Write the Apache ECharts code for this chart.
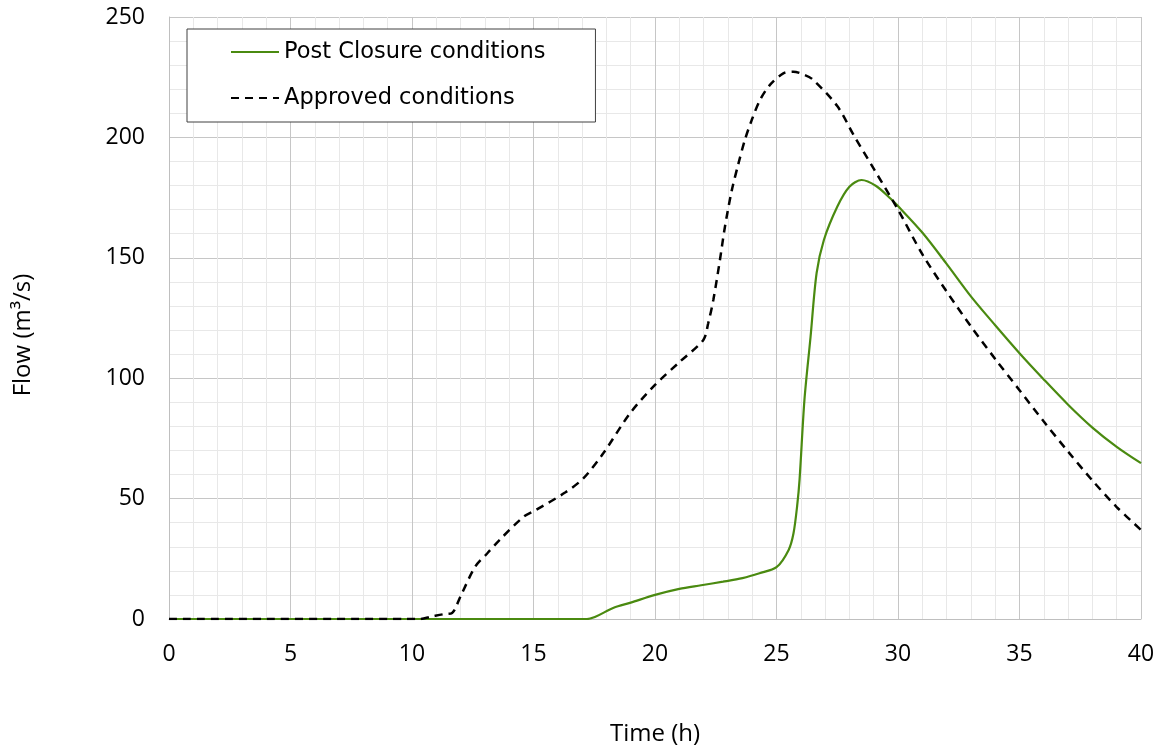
<!DOCTYPE html>
<html>
<head>
<meta charset="utf-8">
<script src="https://cdn.jsdelivr.net/npm/echarts@6/dist/echarts.min.js"></script>
<style>
html,body{margin:0;padding:0;background:#fff;}
#chart{width:1167px;height:751px;}
</style>
</head>
<body>
<div id="chart"></div>
<script>
// Data
const seriesNames = ['Post Closure conditions', 'Approved conditions'];

const timePost = [0, 16.6, 17.2, 18.3, 19.0, 20.0, 21.0, 21.9, 22.8, 23.6, 24.3, 25.0, 25.5, 25.7, 25.85, 25.95, 26.15, 26.4, 26.65, 26.95, 27.5, 28.0, 28.5, 29.1, 29.7, 30.0, 31.0, 32.0, 33.0, 34.0, 35.0, 36.0, 37.0, 38.0, 39.0, 40.0];
const flowPost = [0, 0, 0, 4.7, 6.8, 10, 12.5, 14, 15.5, 17, 19, 21.5, 28.7, 35.6, 47, 58, 91, 117, 143.6, 157.4, 171.2, 179.5, 182.3, 179.8, 174.5, 171.5, 160.5, 147.5, 134, 122, 110.4, 99.5, 89, 79.5, 71.5, 64.7];

const timeApproved = [0, 9.8, 10.3, 10.8, 11.3, 11.65, 12.0, 12.6, 13.1, 13.6, 14.6, 15.1, 16.3, 17.05, 17.87, 18.97, 20.0, 21.03, 21.99, 22.19, 22.4, 22.67, 22.88, 23.16, 23.43, 23.7, 23.98, 24.32, 24.73, 25.28, 25.69, 26.17, 26.5, 27.5, 28.2, 29.0, 30.0, 31.0, 32.0, 33.0, 34.0, 35.0, 36.0, 37.0, 38.0, 39.0, 40.0];
const flowApproved = [0, 0, 0, 1, 2, 2.5, 9.5, 21.7, 27.3, 32.8, 42.5, 45.3, 52.5, 58.4, 68.8, 85.4, 97.2, 106.9, 115.9, 122.8, 132.5, 149, 163, 178, 189, 199, 207.2, 215.5, 221.8, 226.6, 227.3, 225.9, 224, 213, 200.5, 187, 170, 151.5, 136, 121.5, 108, 95, 82, 69.5, 57.5, 46.5, 37];

const xAxisName = 'Time (h)';
const yAxisName = 'Flow (m³/s)';

const AXIS_FONT = 'Open Sans';
const LEGEND_FONT = 'DejaVu Sans';
const pairs = (xs, ys) => xs.map((x, i) => [x, ys[i]]);

const chart = echarts.init(document.getElementById('chart'), null, {renderer: 'canvas'});
chart.setOption({
  animation: false,
  backgroundColor: '#ffffff',
  textStyle: {fontFamily: AXIS_FONT},
  grid: {left: 169, right: 26, top: 17, bottom: 132, containLabel: false},
  legend: {
    orient: 'vertical',
    left: 187,
    top: 29,
    data: seriesNames,
    backgroundColor: '#ffffff',
    borderColor: '#404040',
    borderWidth: 1,
    borderRadius: 0,
    padding: [10, 50, 11, 43],
    itemGap: 20,
    itemWidth: 48,
    itemHeight: 26,
    itemStyle: {opacity: 0},
    textStyle: {fontFamily: LEGEND_FONT, fontSize: 22.5, lineHeight: 26, color: '#000'}
  },
  xAxis: {
    type: 'value',
    min: 0, max: 40, interval: 5,
    name: xAxisName,
    nameLocation: 'middle',
    nameGap: 103,
    nameTextStyle: {fontFamily: AXIS_FONT, fontSize: 24, color: '#000'},
    axisLine: {show: true, lineStyle: {color: '#bfbfbf', width: 1}},
    axisTick: {show: false},
    axisLabel: {fontFamily: AXIS_FONT, fontSize: 23, color: '#000', margin: 24},
    splitLine: {show: true, lineStyle: {color: '#c6c6c6', width: 1}},
    minorTick: {show: false, splitNumber: 5},
    minorSplitLine: {show: true, lineStyle: {color: '#e8e8e8', width: 1}}
  },
  yAxis: {
    type: 'value',
    min: 0, max: 250, interval: 50,
    name: yAxisName,
    nameLocation: 'middle',
    nameGap: 134,
    nameTextStyle: {fontFamily: AXIS_FONT, fontSize: 24, color: '#000', padding: [0, 34, 0, 0]},
    axisLine: {show: true, lineStyle: {color: '#bfbfbf', width: 1}},
    axisTick: {show: false},
    axisLabel: {fontFamily: AXIS_FONT, fontSize: 23, color: '#000', margin: 24},
    splitLine: {show: true, lineStyle: {color: '#c6c6c6', width: 1}},
    minorTick: {show: false, splitNumber: 5},
    minorSplitLine: {show: true, lineStyle: {color: '#e8e8e8', width: 1}}
  },
  series: [
    {
      name: seriesNames[0],
      type: 'line',
      data: pairs(timePost, flowPost),
      symbol: 'none',
      smooth: 0.3,
      color: '#4a8a10',
      lineStyle: {color: '#4a8a10', width: 2.2},
      z: 3
    },
    {
      name: seriesNames[1],
      type: 'line',
      data: pairs(timeApproved, flowApproved),
      symbol: 'none',
      smooth: 0.3,
      color: '#000000',
      lineStyle: {color: '#000000', width: 2.5, type: [8, 6]},
      z: 4
    }
  ]
});
</script>
</body>
</html>
